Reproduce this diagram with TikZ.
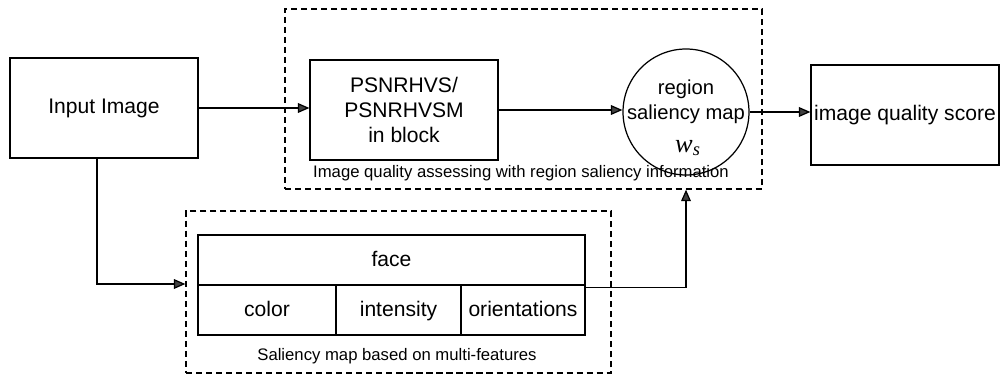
\documentclass[tikz,border=0pt]{standalone}
\usepackage{fontspec}
\setmainfont{Liberation Sans}
\newfontfamily\timesit{Liberation Serif}
\usetikzlibrary{arrows.meta}
\begin{document}
\begin{tikzpicture}[x=0.02cm,y=-0.02cm,
  box/.style={draw, line width=0.7pt, inner sep=0pt, font=\fontsize{12}{14.2}\selectfont, align=center},
  dbox/.style={draw, dash pattern=on 3.5pt off 2.2pt, line width=0.75pt, inner sep=0pt},
  lab/.style={font=\fontsize{9.5}{11}\selectfont, inner sep=0pt},
  cell/.style={draw, line width=0.7pt, inner sep=0pt, font=\fontsize{12}{14.2}\selectfont, minimum height=1cm, text height=0.9em, text depth=0.15em},
  conn/.style={line width=0.7pt, -{Triangle[length=6.5pt,width=5.5pt,fill=black!75]}},
]
\useasboundingbox (0,0) rectangle (1000,378);
\node[dbox, minimum width=9.54cm, minimum height=3.6cm] (top) at (523.5,99) {};
\node[dbox, minimum width=8.5cm, minimum height=3.24cm] (bot) at (398.5,292) {};
\node[box, minimum width=3.76cm, minimum height=2cm] (input) at (104,108) {Input Image};
\node[box, minimum width=3.76cm, minimum height=2cm] (psnr) at (404,110) {PSNRHVS/\\PSNRHVSM\\in block};
\node[box, circle, minimum size=2.52cm] (circ) at (686,112) {};
\node[font=\fontsize{11.5}{14.2}\selectfont, align=center, inner sep=0pt] (circt) at (686,102) {region\\saliency map};
\node[font=\fontsize{15}{15}\selectfont, inner sep=0pt] (ws) at (688,148) {\timesit\itshape w\textsubscript{s}};
\node[box, minimum width=3.76cm, minimum height=2cm] (score) at (905,115) {image quality score};
\node[lab] (toplab) at (521,173) {Image quality assessing with region saliency information};
% table
\node[cell, minimum width=7.74cm] (face) at (391.5,260) {face};
\node[cell, minimum width=2.76cm] (color) at (267,310) {color};
\node[cell, minimum width=2.5cm] (inten) at (398.5,310) {intensity};
\node[cell, minimum width=2.48cm] (orient) at (523,310) {orientations};
\node[lab] (botlab) at (397,356) {Saliency map based on multi-features};
% connectors
\coordinate (y284) at (0,284);
\draw[conn] (input.east) -- (input.east -| psnr.west);
\draw[conn] (psnr.east) -- (psnr.east -| circ.west);
\draw[conn] (circ.east) -- (circ.east -| score.west);
\draw[conn] ([xshift=-0.14cm]input.south) |- (bot.west |- y284);
\draw[conn] ([yshift=-0.06cm]orient.north east) -| (circ |- top.south);
\end{tikzpicture}
\end{document}
